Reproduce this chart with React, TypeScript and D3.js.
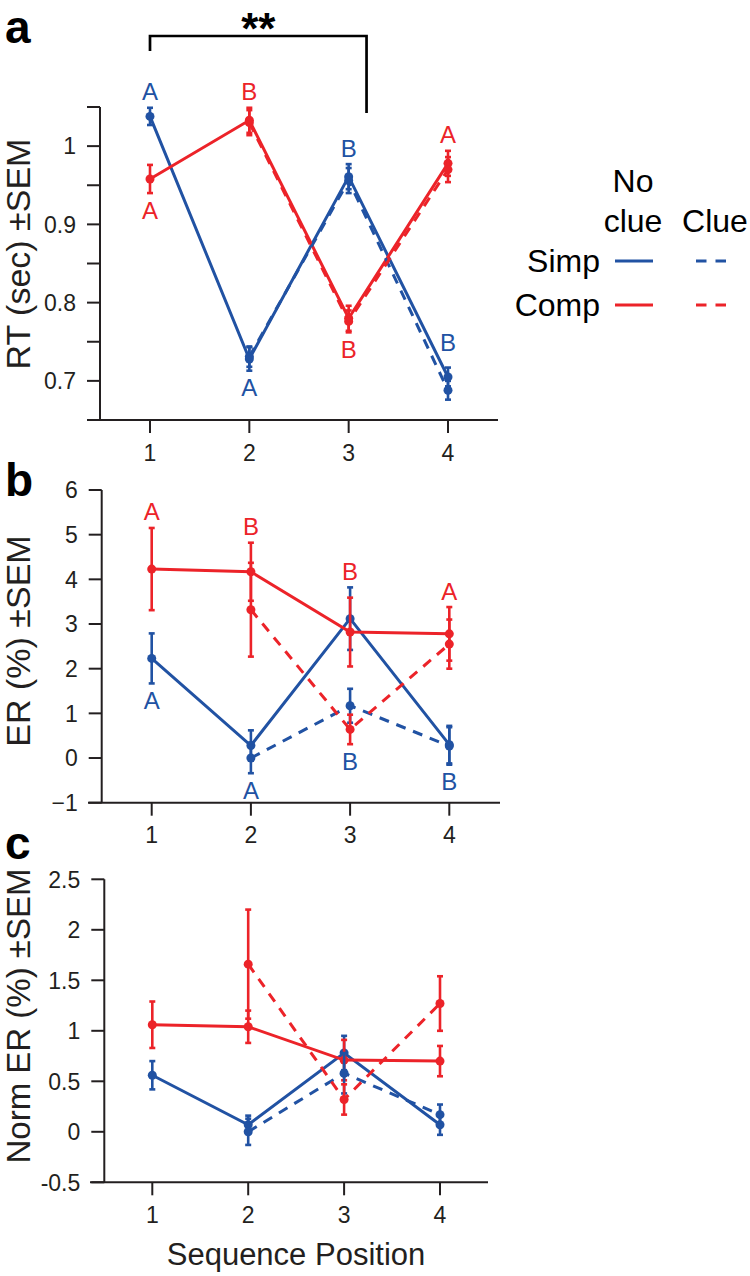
import React from "react";
import * as d3 from "d3";

// ---------- data ----------
const positions = [1, 2, 3, 4];
const cluePositions = [2, 3, 4];
const xTickLabels = ["1", "2", "3", "4"];

// Panel a: RT (sec)
const rtSimpNoClue = [1.038, 0.728, 0.961, 0.705];
const rtSimpNoClueErr = [0.011, 0.015, 0.016, 0.012];
const rtSimpClue = [0.731, 0.956, 0.688];
const rtSimpClueErr = [0.013, 0.016, 0.012];
const rtCompNoClue = [0.958, 1.033, 0.78, 0.978];
const rtCompNoClueErr = [0.018, 0.016, 0.016, 0.016];
const rtCompClue = [1.03, 0.776, 0.97];
const rtCompClueErr = [0.016, 0.014, 0.016];
const rtTicks = [0.7, 0.75, 0.8, 0.85, 0.9, 0.95, 1, 1.05];
const rtTickLabels = ["0.7", "", "0.8", "", "0.9", "", "1", ""];
const rtSimpLetters = ["A", "A", "B", "B"];
const rtSimpSides = ["above", "below", "above", "aboveOwn"];
const rtCompLetters = ["A", "B", "B", "A"];
const rtCompSides = ["below", "above", "below", "above"];

// Panel b: ER (%)
const erSimpNoClue = [2.23, 0.28, 3.12, 0.3];
const erSimpNoClueErr = [0.56, 0.34, 0.7, 0.42];
const erSimpClue = [0.0, 1.17, 0.27];
const erSimpClueErr = [0.34, 0.38, 0.42];
const erCompNoClue = [4.23, 4.17, 2.82, 2.78];
const erCompNoClueErr = [0.92, 0.65, 0.77, 0.6];
const erCompClue = [3.32, 0.64, 2.55];
const erCompClueErr = [1.05, 0.33, 0.55];
const erTicks = [-1, 0, 1, 2, 3, 4, 5, 6];
const erTickLabels = ["\u22121", "0", "1", "2", "3", "4", "5", "6"];
const erSimpLetters = ["A", "A", "B", "B"];
const erSimpSides = ["below", "below", "below", "below"];
const erCompLetters = ["A", "B", "B", "A"];
const erCompSides = ["above", "above", "above", "above"];

// Panel c: Norm ER (%)
const nSimpNoClue = [0.56, 0.07, 0.78, 0.07];
const nSimpNoClueErr = [0.14, 0.09, 0.17, 0.1];
const nSimpClue = [0.0, 0.58, 0.17];
const nSimpClueErr = [0.13, 0.2, 0.1];
const nCompNoClue = [1.06, 1.04, 0.71, 0.7];
const nCompNoClueErr = [0.23, 0.16, 0.2, 0.15];
const nCompClue = [1.66, 0.32, 1.27];
const nCompClueErr = [0.54, 0.15, 0.27];
const nTicks = [-0.5, 0, 0.5, 1, 1.5, 2, 2.5];
const nTickLabels = ["-0.5", "0", "0.5", "1", "1.5", "2", "2.5"];

const legendRows = ["Simp", "Comp"];
const legendCols = ["No\nclue", "Clue"];

// ---------- style ----------
const BLUE = "#2152A3";
const RED = "#EC2329";
const AXIS = "#231F20";
const FONT = "'Liberation Sans', Arial, Helvetica, sans-serif";
const DASH = "10,8";

type Series = { xs: number[]; vs: number[]; es: number[]; color: string; dashed: boolean };

function mk(xs: number[], vs: number[], es: number[], color: string, dashed: boolean): Series {
  return { xs, vs, es, color, dashed };
}

type PanelProps = {
  letter: string;
  letterY: number;
  ylabel: string;
  ylabelY: number;
  ylabelSize: number;
  domain: [number, number];
  yTop: number;
  yBottom: number;
  yAxisX: number;
  xStart: number;
  xEnd: number;
  x1: number;
  x4: number;
  ticks: number[];
  tickLabels: string[];
  series: Series[];
  labels?: { letters: string[]; sides: string[]; color: string }[];
};

function Panel(p: PanelProps) {
  const y = d3.scaleLinear().domain(p.domain).range([p.yBottom, p.yTop]);
  const x = d3.scaleLinear().domain([1, 4]).range([p.x1, p.x4]);
  const line = d3
    .line<[number, number]>()
    .x((d) => x(d[0]))
    .y((d) => y(d[1]));
  const ordered = [...p.series.filter((s) => !s.dashed), ...p.series.filter((s) => s.dashed)];

  const labelEls: React.ReactNode[] = [];
  if (p.labels) {
    p.labels.forEach((lab, li) => {
      lab.letters.forEach((letter, i) => {
        const pos = positions[i];
        const tops: number[] = [];
        const bots: number[] = [];
        const ownTops: number[] = [];
        p.series.forEach((s) => {
          const k = s.xs.indexOf(pos);
          if (k >= 0) {
            tops.push(y(s.vs[k] + s.es[k]));
            bots.push(y(s.vs[k] - s.es[k]));
            if (s.color === lab.color) ownTops.push(y(s.vs[k] + s.es[k]));
          }
        });
        const side = lab.sides[i];
        let cy: number;
        if (side === "above") cy = Math.min(...tops) - 16;
        else if (side === "below") cy = Math.max(...bots) + 17;
        else cy = Math.min(...ownTops) - 25;
        labelEls.push(
          <text
            key={`l${li}-${i}`}
            x={x(pos)}
            y={cy + 8.5}
            textAnchor="middle"
            fontSize={24}
            fill={lab.color}
            fontFamily={FONT}
          >
            {letter}
          </text>
        );
      });
    });
  }

  return (
    <g>
      <text x={5} y={p.letterY} fontSize={46} fontWeight="bold" fontFamily={FONT} fill="#000">
        {p.letter}
      </text>
      <text
        transform={`translate(30,${p.ylabelY}) rotate(-90)`}
        textAnchor="middle"
        fontSize={p.ylabelSize}
        fontFamily={FONT}
        fill={AXIS}
      >
        {p.ylabel}
      </text>
      {/* axes */}
      <line x1={p.yAxisX} x2={p.yAxisX} y1={p.yBottom} y2={p.yTop} stroke={AXIS} strokeWidth={2} />
      <line x1={p.xStart} x2={p.xEnd} y1={p.yBottom} y2={p.yBottom} stroke={AXIS} strokeWidth={2} />
      {p.ticks.map((t, i) => (
        <g key={`yt${i}`}>
          <line x1={p.yAxisX - 13} x2={p.yAxisX} y1={y(t)} y2={y(t)} stroke={AXIS} strokeWidth={2} />
          {p.tickLabels[i] ? (
            <text
              x={p.yAxisX - 24}
              y={y(t) + 8.3}
              textAnchor="end"
              fontSize={23}
              fontFamily={FONT}
              fill={AXIS}
            >
              {p.tickLabels[i]}
            </text>
          ) : null}
        </g>
      ))}
      {positions.map((pos, i) => (
        <g key={`xt${i}`}>
          <line x1={x(pos)} x2={x(pos)} y1={p.yBottom} y2={p.yBottom + 13} stroke={AXIS} strokeWidth={2} />
          <text
            x={x(pos)}
            y={p.yBottom + 40.5}
            textAnchor="middle"
            fontSize={23}
            fontFamily={FONT}
            fill={AXIS}
          >
            {xTickLabels[i]}
          </text>
        </g>
      ))}
      {/* series */}
      {ordered.map((s, si) => {
        const pts = s.xs.map((xx, k) => [xx, s.vs[k]] as [number, number]);
        return (
          <g key={`s${si}`}>
            <path
              d={line(pts) || ""}
              fill="none"
              stroke={s.color}
              strokeWidth={3}
              strokeDasharray={s.dashed ? DASH : undefined}
            />
            {s.xs.map((xx, k) => {
              const cx = x(xx);
              const t = y(s.vs[k] + s.es[k]);
              const b = y(s.vs[k] - s.es[k]);
              return (
                <g key={k}>
                  <line x1={cx} x2={cx} y1={t} y2={b} stroke={s.color} strokeWidth={2.6} />
                  <line x1={cx - 3} x2={cx + 3} y1={t} y2={t} stroke={s.color} strokeWidth={2.6} />
                  <line x1={cx - 3} x2={cx + 3} y1={b} y2={b} stroke={s.color} strokeWidth={2.6} />
                  <circle cx={cx} cy={y(s.vs[k])} r={4.5} fill={s.color} />
                </g>
              );
            })}
          </g>
        );
      })}
      {labelEls}
    </g>
  );
}

function Legend() {
  const rowY = [261, 305];
  const colors = [BLUE, RED];
  return (
    <g fontFamily={FONT} fill="#000">
      <text x={633} y={192} textAnchor="middle" fontSize={32}>
        {legendCols[0].split("\n")[0]}
      </text>
      <text x={633} y={232} textAnchor="middle" fontSize={32}>
        {legendCols[0].split("\n")[1]}
      </text>
      <text x={715} y={232} textAnchor="middle" fontSize={32}>
        {legendCols[1]}
      </text>
      {legendRows.map((r, i) => (
        <g key={r}>
          <text x={600} y={rowY[i] + 10.5} textAnchor="end" fontSize={32}>
            {r}
          </text>
          <line x1={615} x2={653} y1={rowY[i]} y2={rowY[i]} stroke={colors[i]} strokeWidth={3.2} />
          <line
            x1={696}
            x2={727}
            y1={rowY[i]}
            y2={rowY[i]}
            stroke={colors[i]}
            strokeWidth={3.2}
            strokeDasharray="10.5,9"
          />
        </g>
      ))}
    </g>
  );
}

export default function App() {
  const panelA: PanelProps = {
    letter: "a",
    letterY: 43,
    ylabel: "RT (sec) \u00B1SEM",
    ylabelY: 254,
    ylabelSize: 34,
    domain: [0.65, 1.05],
    yTop: 107,
    yBottom: 420,
    yAxisX: 100,
    xStart: 87,
    xEnd: 498,
    x1: 150,
    x4: 448,
    ticks: rtTicks,
    tickLabels: rtTickLabels,
    series: [
      mk(positions, rtSimpNoClue, rtSimpNoClueErr, BLUE, false),
      mk(positions, rtCompNoClue, rtCompNoClueErr, RED, false),
      mk(cluePositions, rtSimpClue, rtSimpClueErr, BLUE, true),
      mk(cluePositions, rtCompClue, rtCompClueErr, RED, true),
    ],
    labels: [
      { letters: rtSimpLetters, sides: rtSimpSides, color: BLUE },
      { letters: rtCompLetters, sides: rtCompSides, color: RED },
    ],
  };
  const panelB: PanelProps = {
    letter: "b",
    letterY: 496,
    ylabel: "ER (%) \u00B1SEM",
    ylabelY: 641,
    ylabelSize: 34,
    domain: [-1, 6],
    yTop: 490,
    yBottom: 802.7,
    yAxisX: 101.7,
    xStart: 88,
    xEnd: 500,
    x1: 151.7,
    x4: 449.3,
    ticks: erTicks,
    tickLabels: erTickLabels,
    series: [
      mk(positions, erSimpNoClue, erSimpNoClueErr, BLUE, false),
      mk(positions, erCompNoClue, erCompNoClueErr, RED, false),
      mk(cluePositions, erSimpClue, erSimpClueErr, BLUE, true),
      mk(cluePositions, erCompClue, erCompClueErr, RED, true),
    ],
    labels: [
      { letters: erSimpLetters, sides: erSimpSides, color: BLUE },
      { letters: erCompLetters, sides: erCompSides, color: RED },
    ],
  };
  const panelC: PanelProps = {
    letter: "c",
    letterY: 859,
    ylabel: "Norm ER (%) \u00B1SEM",
    ylabelY: 1016,
    ylabelSize: 33,
    domain: [-0.5, 2.5],
    yTop: 879.3,
    yBottom: 1182.3,
    yAxisX: 104.3,
    xStart: 90,
    xEnd: 488,
    x1: 152.3,
    x4: 440,
    ticks: nTicks,
    tickLabels: nTickLabels,
    series: [
      mk(positions, nSimpNoClue, nSimpNoClueErr, BLUE, false),
      mk(positions, nCompNoClue, nCompNoClueErr, RED, false),
      mk(cluePositions, nSimpClue, nSimpClueErr, BLUE, true),
      mk(cluePositions, nCompClue, nCompClueErr, RED, true),
    ],
  };

  const xa = d3.scaleLinear().domain([1, 4]).range([panelA.x1, panelA.x4]);
  const bx1 = xa(1);
  const bx2 = xa(3.18);

  return (
    <div style={{ position: "absolute", left: 0, top: 0 }}>
      <svg width={750} height={1276} style={{ display: "block", background: "#fff" }}>
        {/* significance bracket */}
        <path
          d={`M${bx1},51 L${bx1},36 L${bx2},36 L${bx2},113`}
          fill="none"
          stroke="#000"
          strokeWidth={2.7}
        />
        <text
          x={(bx1 + bx2) / 2}
          y={44}
          textAnchor="middle"
          fontSize={44}
          fontWeight="bold"
          fontFamily={FONT}
          fill="#000"
        >
          **
        </text>
        <Panel {...panelA} />
        <Panel {...panelB} />
        <Panel {...panelC} />
        <text x={296} y={1265} textAnchor="middle" fontSize={31} fontFamily={FONT} fill={AXIS}>
          Sequence Position
        </text>
        <Legend />
      </svg>
    </div>
  );
}
